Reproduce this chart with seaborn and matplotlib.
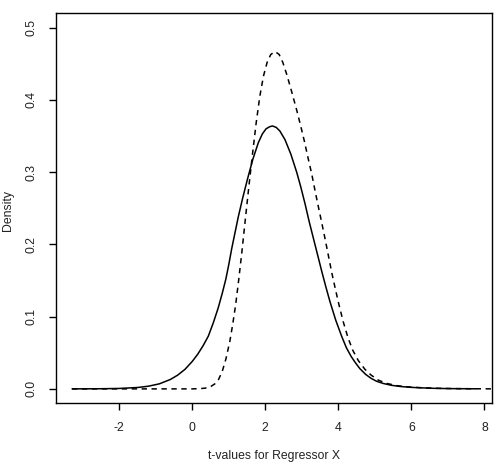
import matplotlib
matplotlib.use("Agg")
import matplotlib.pyplot as plt
import seaborn as sns
import pandas as pd

# Solid curve
solid_x = [-3.29, -2.5, -2.0, -1.5, -1.2, -0.9, -0.6, -0.4, -0.2, 0.0, 0.15, 0.3,
           0.44, 0.58, 0.71, 0.82, 0.92, 1.0, 1.08, 1.17, 1.26, 1.38, 1.51, 1.66,
           1.81, 1.92, 2.02, 2.12, 2.2, 2.3, 2.4, 2.54, 2.7, 2.86, 2.97, 3.09,
           3.2, 3.32, 3.44, 3.55, 3.66, 3.77, 3.93, 4.09, 4.22, 4.35, 4.47, 4.59,
           4.75, 4.9, 5.05, 5.23, 5.45, 5.7, 6.0, 6.24, 6.6, 7.0, 7.76]
solid_y = [0.0, 0.0002, 0.0006, 0.0019, 0.0037, 0.007, 0.013, 0.019, 0.027, 0.038, 0.048, 0.060,
           0.073, 0.092, 0.112, 0.132, 0.152, 0.172, 0.194, 0.216, 0.238, 0.264, 0.290, 0.318,
           0.341, 0.353, 0.360, 0.363, 0.364, 0.362, 0.357, 0.345, 0.325, 0.300, 0.280, 0.256,
           0.232, 0.208, 0.184, 0.162, 0.141, 0.121, 0.095, 0.073, 0.057, 0.045, 0.036, 0.028,
           0.020, 0.0145, 0.0105, 0.0075, 0.005, 0.0033, 0.0021, 0.0015, 0.0008, 0.0004, 0.0001]

# Dashed curve
dashed_x = [-3.29, 0.0, 0.2, 0.35, 0.5, 0.62, 0.72, 0.82, 0.92, 1.03, 1.11, 1.19,
            1.27, 1.36, 1.45, 1.55, 1.65, 1.75, 1.85, 1.95, 2.05, 2.15, 2.27, 2.38,
            2.48, 2.59, 2.72, 2.86, 2.97, 3.07, 3.17, 3.27, 3.36, 3.45, 3.55, 3.64,
            3.73, 3.82, 3.92, 4.02, 4.14, 4.27, 4.4, 4.55, 4.73, 4.9, 5.1, 5.33,
            5.6, 5.9, 6.24, 6.7, 7.3, 8.3]
dashed_y = [0.0, 0.0, 0.0003, 0.001, 0.003, 0.007, 0.013, 0.024, 0.041, 0.066, 0.090, 0.117,
            0.150, 0.190, 0.233, 0.280, 0.325, 0.368, 0.405, 0.433, 0.452, 0.463, 0.467, 0.463,
            0.452, 0.435, 0.412, 0.386, 0.364, 0.343, 0.320, 0.298, 0.275, 0.253, 0.229, 0.207,
            0.184, 0.161, 0.138, 0.116, 0.092, 0.070, 0.053, 0.039, 0.027, 0.019, 0.012, 0.0075,
            0.0045, 0.0028, 0.0017, 0.0008, 0.0003, 0.0]

x_ticks = [-2, 0, 2, 4, 6, 8]
y_ticks = [0.0, 0.1, 0.2, 0.3, 0.4, 0.5]
x_label = "t-values for Regressor X"
y_label = "Density"

sns.set_style("white")
plt.rcParams['font.family'] = ['Liberation Sans', 'DejaVu Sans']

fig = plt.figure(figsize=(5.02, 4.62), dpi=100)
ax = fig.add_axes([0.1116, 0.127, 0.9795 - 0.1116, 0.9712 - 0.127])

df_s = pd.DataFrame({"x": solid_x, "y": solid_y})
df_d = pd.DataFrame({"x": dashed_x, "y": dashed_y})
sns.lineplot(data=df_s, x="x", y="y", ax=ax, color="black", linewidth=1.1, sort=False)
sns.lineplot(data=df_d, x="x", y="y", ax=ax, color="black", linewidth=1.1, sort=False,
             linestyle=(0, (3.5, 3)))

ax.set_xlim(-3.73, 8.20)
ax.set_ylim(-0.02, 0.52)
ax.set_xticks(x_ticks)
ax.set_xticklabels([str(t) for t in x_ticks])
ax.set_yticks(y_ticks)
ax.set_yticklabels([f"{t:.1f}" for t in y_ticks], rotation=90, va="center")

for s in ax.spines.values():
    s.set_visible(True)
    s.set_color("black")
    s.set_linewidth(1.0)

ax.tick_params(axis="both", direction="out", length=5, width=1.0, color="black",
               labelsize=8.8, labelcolor="#222222", bottom=True, left=True)
ax.tick_params(axis="x", pad=8.5)
ax.tick_params(axis="y", pad=8)

ax.set_xlabel("")
ax.set_ylabel("")
fig.text(274 / 502, 1 - 456.5 / 462, x_label, ha="center", va="center",
         fontsize=8.8, color="#222222")
fig.text(8 / 502, 1 - 210 / 462, y_label, ha="center", va="center", rotation=90,
         fontsize=8.8, color="#222222")

fig.savefig("out.png", dpi=100)
